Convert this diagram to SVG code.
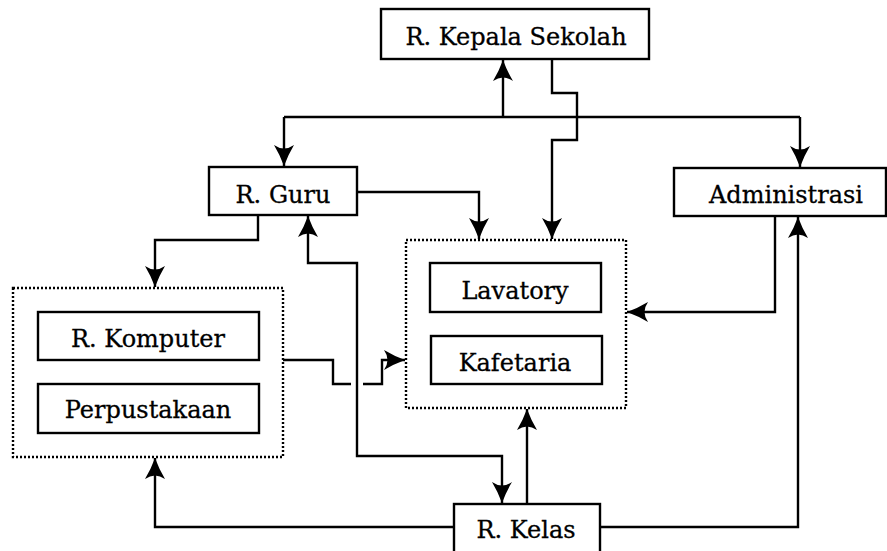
<svg xmlns="http://www.w3.org/2000/svg" width="887" height="551" viewBox="0 0 887 551">
  <style>
    .box { fill: #fff; stroke: #000; stroke-width: 2.4; }
    .group { fill: none; stroke: #000; stroke-width: 2.4; stroke-dasharray: 2 2; }
    .lbl { font-family: "DejaVu Serif", "Liberation Serif", serif; font-size: 24px; fill: #000; text-anchor: middle; stroke: #000; stroke-width: 0.3; }
    .wire { fill: none; stroke: #000; stroke-width: 2.4; }
    .arr { marker-end: url(#head); }
    .both { marker-start: url(#headStart); marker-end: url(#head); }
  </style>
  <defs>
    <marker id="head" markerUnits="userSpaceOnUse" markerWidth="22" markerHeight="22" viewBox="0 0 22 22" refX="21" refY="11" orient="auto">
      <path d="M21,11 Q10,7 0,1 Q7,11 0,21 Q10,15 21,11 Z" fill="#000"/>
    </marker>
    <marker id="headStart" markerUnits="userSpaceOnUse" markerWidth="22" markerHeight="22" viewBox="0 0 22 22" refX="21" refY="11" orient="auto-start-reverse">
      <path d="M21,11 Q10,7 0,1 Q7,11 0,21 Q10,15 21,11 Z" fill="#000"/>
    </marker>
  </defs>
  <rect width="887" height="551" fill="#fff"/>

  <g id="connectors">
    <!-- distribution bus under the principal's room -->
    <path class="wire" d="M284,117 L800,117"/>
    <path class="wire arr" d="M503,117 L503,60"/>
    <path class="wire arr" d="M284,117 L284,166"/>
    <path class="wire arr" d="M800,117 L800,167"/>
    <!-- principal's room to lavatory/cafeteria -->
    <path class="wire arr" d="M552,59 L552,93 L577,93 L577,140 L552,140 L552,239"/>
    <!-- teachers' room links -->
    <path class="wire arr" d="M357,192 L479,192 L479,239"/>
    <path class="wire arr" d="M258,215 L258,240 L155,240 L155,287"/>
    <path class="wire both" d="M308,216 L308,263 L357,263 L357,456 L502,456 L502,503"/>
    <!-- computer room / library to lavatory/cafeteria -->
    <path class="wire" d="M283,360 L333,360 L333,384 L351,384"/>
    <path class="wire arr" d="M363,384 L382,384 L382,360 L405,360"/>
    <!-- administration to lavatory/cafeteria -->
    <path class="wire arr" d="M775,216 L775,312 L627,312"/>
    <!-- classroom links -->
    <path class="wire arr" d="M527,504 L527,409"/>
    <path class="wire arr" d="M454,527 L155,527 L155,458"/>
    <path class="wire arr" d="M600,527 L798,527 L798,217"/>
  </g>

  <g id="kepala-sekolah">
    <rect class="box" x="381" y="9" width="268" height="50"/>
    <text class="lbl" x="516" y="45">R. Kepala Sekolah</text>
  </g>
  <g id="guru">
    <rect class="box" x="209" y="167" width="148" height="48"/>
    <text class="lbl" x="283" y="203">R. Guru</text>
  </g>
  <g id="administrasi">
    <rect class="box" x="674" y="168" width="212" height="48"/>
    <text class="lbl" x="786" y="203">Administrasi</text>
  </g>

  <g id="ruang-belajar">
    <rect class="group" x="13" y="288" width="270" height="169"/>
    <g id="komputer">
      <rect class="box" x="38" y="312" width="221" height="48"/>
      <text class="lbl" x="148" y="347">R. Komputer</text>
    </g>
    <g id="perpustakaan">
      <rect class="box" x="38" y="384" width="221" height="49"/>
      <text class="lbl" x="148" y="418">Perpustakaan</text>
    </g>
  </g>

  <g id="fasilitas">
    <rect class="group" x="406" y="240" width="220" height="168"/>
    <g id="lavatory">
      <rect class="box" x="430" y="263" width="171" height="49"/>
      <text class="lbl" x="515" y="299">Lavatory</text>
    </g>
    <g id="kafetaria">
      <rect class="box" x="431" y="336" width="171" height="48"/>
      <text class="lbl" x="515" y="371">Kafetaria</text>
    </g>
  </g>

  <g id="kelas">
    <rect class="box" x="454" y="504" width="146" height="52"/>
    <text class="lbl" x="526" y="538">R. Kelas</text>
  </g>
</svg>
